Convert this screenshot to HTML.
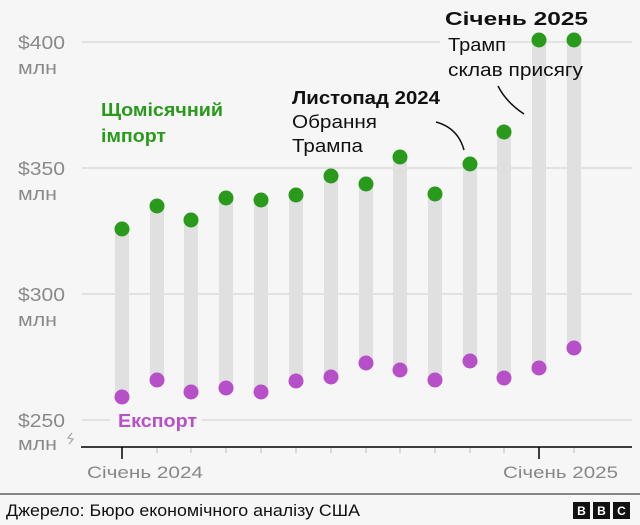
<!DOCTYPE html>
<html><head><meta charset="utf-8"><style>
html,body{margin:0;padding:0;background:#f6f6f6;}
svg{display:block;font-family:"Liberation Sans",sans-serif;}
</style></head><body>
<svg width="640" height="525" viewBox="0 0 640 525">
<rect width="640" height="525" fill="#f6f6f6"/>
<g stroke="#cfcfcf" stroke-width="1">
<line x1="82" y1="42" x2="632" y2="42"/>
<line x1="82" y1="168" x2="632" y2="168"/>
<line x1="82" y1="294" x2="632" y2="294"/>
<line x1="82" y1="420" x2="632" y2="420"/>
</g>
<rect x="96" y="97" width="132" height="50" fill="#f6f6f6"/>
<rect x="288" y="85" width="156" height="72" fill="#f6f6f6"/>
<rect x="440" y="30" width="60" height="24" fill="#f6f6f6"/>
<rect x="110" y="410" width="92" height="22" fill="#f6f6f6"/>
<g fill="#8a8a8a" font-size="18">
<text x="18" y="49" textLength="47" lengthAdjust="spacingAndGlyphs">$400</text><text x="18" y="74" textLength="39" lengthAdjust="spacingAndGlyphs">млн</text>
<text x="18" y="175" textLength="47" lengthAdjust="spacingAndGlyphs">$350</text><text x="18" y="200" textLength="39" lengthAdjust="spacingAndGlyphs">млн</text>
<text x="18" y="301" textLength="47" lengthAdjust="spacingAndGlyphs">$300</text><text x="18" y="326" textLength="39" lengthAdjust="spacingAndGlyphs">млн</text>
<text x="18" y="427" textLength="47" lengthAdjust="spacingAndGlyphs">$250</text><text x="18" y="450" textLength="39" lengthAdjust="spacingAndGlyphs">млн</text>
</g>
<path d="M72 433 l-4 5 l5 1 l-4 5" stroke="#aaa" fill="none" stroke-width="1.3"/>
<g fill="#e0e0e0" id="bars"></g>
<g id="dots"></g>
<line x1="81" y1="447" x2="632" y2="447" stroke="#000" stroke-width="1.5"/>
<g stroke="#000" stroke-width="1.5"><line x1="122" y1="447" x2="122" y2="459"/><line x1="539" y1="447" x2="539" y2="459"/></g>
<g stroke="#bbb" stroke-width="1" id="ticks"></g>
<text x="87" y="478" fill="#888" font-size="17" textLength="116" lengthAdjust="spacingAndGlyphs">Січень 2024</text>
<text x="503" y="478" fill="#888" font-size="17" textLength="115" lengthAdjust="spacingAndGlyphs">Січень 2025</text>
<text x="101" y="116" fill="#2a9a1c" font-size="18" font-weight="bold" textLength="122" lengthAdjust="spacingAndGlyphs">Щомісячний</text>
<text x="101" y="142" fill="#2a9a1c" font-size="18" font-weight="bold" textLength="65" lengthAdjust="spacingAndGlyphs">імпорт</text>
<text x="118" y="427" fill="#b64fc8" font-size="18" font-weight="bold" textLength="79" lengthAdjust="spacingAndGlyphs">Експорт</text>
<text x="292" y="104" font-size="18" font-weight="bold" fill="#111" textLength="148" lengthAdjust="spacingAndGlyphs">Листопад 2024</text>
<text x="292" y="128" font-size="18" fill="#111" textLength="85" lengthAdjust="spacingAndGlyphs">Обрання</text>
<text x="292" y="152" font-size="18" fill="#111" textLength="71" lengthAdjust="spacingAndGlyphs">Трампа</text>
<path d="M436 122 Q458 128 464 150" stroke="#111" stroke-width="1.5" fill="none"/>
<text x="445" y="25" font-size="18" font-weight="bold" fill="#111" textLength="143" lengthAdjust="spacingAndGlyphs">Січень 2025</text>
<text x="448" y="51" font-size="18" fill="#111" textLength="58" lengthAdjust="spacingAndGlyphs">Трамп</text>
<text x="448" y="76" font-size="18" fill="#111" textLength="135" lengthAdjust="spacingAndGlyphs">склав присягу</text>
<path d="M498 86 Q506 102 524 114" stroke="#111" stroke-width="1.5" fill="none"/>
<line x1="0" y1="494" x2="640" y2="494" stroke="#111" stroke-width="1"/>
<text x="6" y="516" font-size="17" fill="#111" textLength="354" lengthAdjust="spacingAndGlyphs">Джерело: Бюро економічного аналізу США</text>
<g fill="#111"><rect x="573" y="502" width="17" height="17"/><rect x="593" y="502" width="17" height="17"/><rect x="613" y="502" width="17" height="17"/></g>
<g fill="#fff" font-size="12" font-weight="bold" text-anchor="middle"><text x="581.5" y="515">B</text><text x="601.5" y="515">B</text><text x="621.5" y="515">C</text></g>
<script>
var xs=[122,157,191,226,261,296,331,366,400,435,470,504,539,574];
var im=[229,206,220,198,200,195,176,184,157,194,164,132,40,40];
var ex=[397,380,392,388,392,381,377,363,370,380,361,378,368,348];
var ns="http://www.w3.org/2000/svg";
var b=document.getElementById('bars'),d=document.getElementById('dots'),t=document.getElementById('ticks');
function el(p,n,a){var e=document.createElementNS(ns,n);for(var k in a)e.setAttribute(k,a[k]);p.appendChild(e);}
xs.forEach(function(x,i){
el(b,'rect',{x:x-7,y:im[i],width:14,height:ex[i]-im[i]});
el(d,'circle',{cx:x,cy:im[i],r:7.5,fill:'#2a9a1c'});
el(d,'circle',{cx:x,cy:ex[i],r:7.5,fill:'#b64fc8'});
if(i!=0&&i!=12)el(t,'line',{x1:x,y1:448,x2:x,y2:453});
});
</script>
</svg>
</body></html>
